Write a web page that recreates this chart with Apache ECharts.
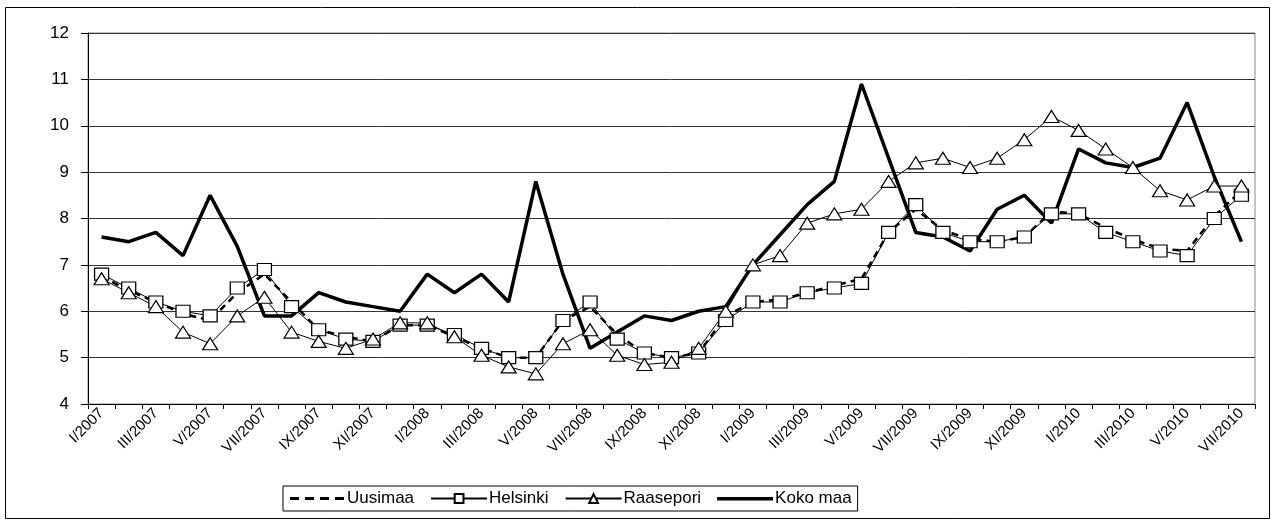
<!DOCTYPE html>
<html>
<head>
<meta charset="utf-8">
<script src="https://cdn.jsdelivr.net/npm/echarts@6/dist/echarts.min.js"></script>
<style>
  html, body { margin: 0; padding: 0; background: #fff; }
  #chart { width: 1271px; height: 520px; }
</style>
</head>
<body>
<div id="chart"></div>
<script>
// kuukaudet I/2007 - VII/2010
const months = [
    'I/2007', 'II/2007', 'III/2007', 'IV/2007', 'V/2007', 'VI/2007', 'VII/2007', 'VIII/2007', 'IX/2007', 'X/2007', 'XI/2007', 'XII/2007',
    'I/2008', 'II/2008', 'III/2008', 'IV/2008', 'V/2008', 'VI/2008', 'VII/2008', 'VIII/2008', 'IX/2008', 'X/2008', 'XI/2008', 'XII/2008',
    'I/2009', 'II/2009', 'III/2009', 'IV/2009', 'V/2009', 'VI/2009', 'VII/2009', 'VIII/2009', 'IX/2009', 'X/2009', 'XI/2009', 'XII/2009',
    'I/2010', 'II/2010', 'III/2010', 'IV/2010', 'V/2010', 'VI/2010', 'VII/2010'
];
const uusimaa = [6.75, 6.45, 6.2, 5.95, 5.8, 6.4, 6.8, 6.2, 5.6, 5.45, 5.35, 5.7,
    5.7, 5.45, 5.2, 5.0, 5.0, 5.8, 6.1, 5.5, 5.1, 5.0, 5.1, 5.9,
    6.2, 6.25, 6.4, 6.55, 6.7, 7.7, 8.2, 7.75, 7.55, 7.5, 7.6, 8.15,
    8.1, 7.8, 7.55, 7.35, 7.3, 8.05, 8.6];
const helsinki = [6.8, 6.5, 6.2, 6.0, 5.9, 6.5, 6.9, 6.1, 5.6, 5.4, 5.35, 5.7,
    5.7, 5.5, 5.2, 5.0, 5.0, 5.8, 6.2, 5.4, 5.1, 5.0, 5.1, 5.8,
    6.2, 6.2, 6.4, 6.5, 6.6, 7.7, 8.3, 7.7, 7.5, 7.5, 7.6, 8.1,
    8.1, 7.7, 7.5, 7.3, 7.2, 8.0, 8.5];
const raasepori = [6.7, 6.4, 6.1, 5.55, 5.3, 5.9, 6.3, 5.55, 5.35, 5.2, 5.4, 5.75,
    5.75, 5.45, 5.05, 4.8, 4.65, 5.3, 5.6, 5.05, 4.85, 4.9, 5.2, 6.0,
    7.0, 7.2, 7.9, 8.1, 8.2, 8.8, 9.2, 9.3, 9.1, 9.3, 9.7, 10.2,
    9.9, 9.5, 9.1, 8.6, 8.4, 8.7, 8.7];
const kokoMaa = [7.6, 7.5, 7.7, 7.2, 8.5, 7.4, 5.9, 5.9, 6.4, 6.2, 6.1, 6.0,
    6.8, 6.4, 6.8, 6.2, 8.8, 6.8, 5.2, 5.55, 5.9, 5.8, 6.0, 6.1,
    7.0, 7.65, 8.3, 8.8, 10.9, 9.3, 7.7, 7.6, 7.3, 8.2, 8.5, 7.9,
    9.5, 9.2, 9.1, 9.3, 10.5, 8.9, 7.5];

const font = 'Liberation Sans, Arial, sans-serif';
// legendin viivaikonit (56 x 11), nollapituiset pätkät kulmissa pitävät mittasuhteet
const dashIcon = 'path://M0,0L0,0M56,11L56,11M1,4h9v3h-9zM16,4h9v3h-9zM31,4h9v3h-9zM46,4h9v3h-9z';
const thickIcon = 'path://M0,0L0,0M56,11L56,11M0,4h56v3.5h-56z';

let myChart = echarts.init(document.getElementById('chart'));

let option = {
    animation: false,
    backgroundColor: '#fff',
    textStyle: { fontFamily: font, color: '#000' },
    graphic: [{
        type: 'rect',
        shape: { x: 5.5, y: 7.5, width: 1264, height: 511 },
        style: { fill: 'none', stroke: '#000', lineWidth: 1 },
        z: -1
    }],
    grid: {
        left: 88, right: 16, top: 33, bottom: 116,
        show: true,
        borderColor: '#8a8a8a',
        borderWidth: 1
    },
    legend: {
        left: 283,
        top: 486,
        itemWidth: 56,
        itemHeight: 11,
        itemGap: 16,
        padding: [4, 6, 4, 6],
        borderColor: '#000',
        borderWidth: 1,
        borderRadius: 0,
        textStyle: { fontFamily: font, fontSize: 17, color: '#000', padding: [0, 0, 0, -3] },
        data: [
            { name: 'Uusimaa', icon: dashIcon },
            'Helsinki',
            'Raasepori',
            { name: 'Koko maa', icon: thickIcon }
        ]
    },
    xAxis: {
        type: 'category',
        data: months,
        boundaryGap: true,
        axisLine: { lineStyle: { color: '#000', width: 1 } },
        axisTick: { show: true, interval: 0, length: 5, lineStyle: { color: '#000' } },
        axisLabel: {
            interval: 1,
            rotate: 45,
            margin: 7,
            fontSize: 15,
            fontFamily: font,
            color: '#000'
        },
        splitLine: { show: false }
    },
    yAxis: {
        type: 'value',
        min: 4,
        max: 12,
        interval: 1,
        axisLine: { show: true, lineStyle: { color: '#000', width: 1 } },
        axisTick: { show: true, length: 7, lineStyle: { color: '#000' } },
        axisLabel: { fontSize: 17, fontFamily: font, color: '#000', margin: 19 },
        splitLine: { lineStyle: { color: '#333', width: 1 } }
    },
    series: [
        {
            name: 'Uusimaa',
            type: 'line',
            data: uusimaa,
            symbol: 'none',
            lineStyle: { color: '#000', width: 2.5, type: [7, 5] },
            itemStyle: { color: '#000' }
        },
        {
            name: 'Helsinki',
            type: 'line',
            data: helsinki,
            symbol: 'rect',
            symbolSize: [14, 12],
            lineStyle: { color: '#000', width: 1 },
            itemStyle: { color: '#fff', borderColor: '#000', borderWidth: 1.2 }
        },
        {
            name: 'Raasepori',
            type: 'line',
            data: raasepori,
            symbol: 'triangle',
            symbolSize: [15, 12],
            lineStyle: { color: '#000', width: 1 },
            itemStyle: { color: '#fff', borderColor: '#000', borderWidth: 1.2 }
        },
        {
            name: 'Koko maa',
            type: 'line',
            data: kokoMaa,
            symbol: 'none',
            lineStyle: { color: '#000', width: 3.5 },
            itemStyle: { color: '#000' }
        }
    ]
};
myChart.setOption(option);
</script>
</body>
</html>
